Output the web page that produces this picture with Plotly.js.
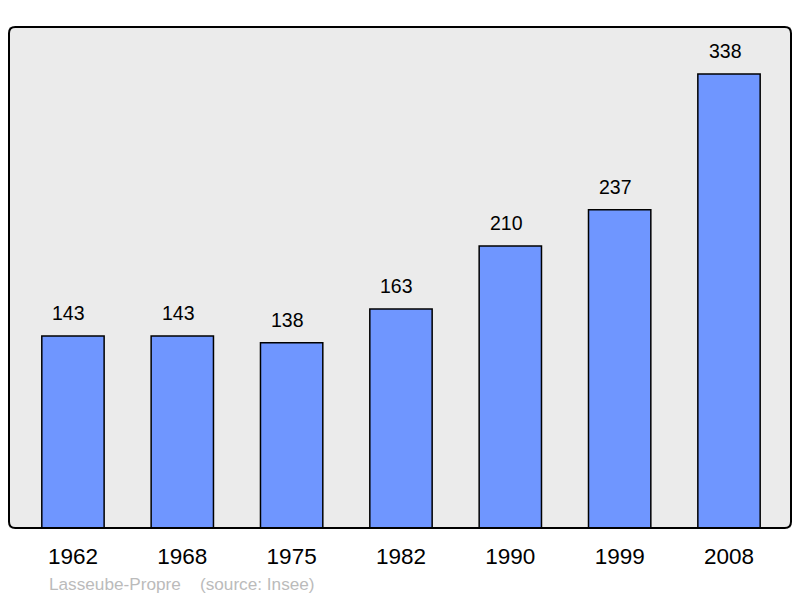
<!DOCTYPE html>
<html><head><meta charset="utf-8">
<script src="https://cdn.plot.ly/plotly-3.0.1.min.js"></script>
<style>html,body{margin:0;padding:0;background:#fff}#c{width:800px;height:598px}</style>
</head><body><div id="c"></div>
<script>
const years = ['1962','1968','1975','1982','1990','1999','2008'];
const population = [143,143,138,163,210,237,338];
const place = 'Lasseube-Propre';
const source = '(source: Insee)';

const r = 0.008, ry = r*782/501;
const border = `M ${r},0 L ${1-r},0 Q 1,0 1,${ry} L 1,${1-ry} Q 1,1 ${1-r},1 L ${r},1 Q 0,1 0,${1-ry} L 0,${ry} Q 0,0 ${r},0 Z`;

const trace = {
  type:'bar', x:years, y:population, width:0.57,
  marker:{color:'#6f96ff', line:{color:'#000', width:1.5}},
  hoverinfo:'none'
};
const anns = years.map((y,i)=>({xref:'x', yref:'y', x:i, y:population[i], text:String(population[i]), showarrow:false,
  yanchor:'bottom', yshift:10, xshift:-4, font:{family:'Liberation Sans, Arial, sans-serif', size:19.5, color:'#000'}}));
anns.push({xref:'paper', yref:'paper', x:(47-9)/782, y:-(584-528)/501, xanchor:'left', yanchor:'middle',
  text:place+'&nbsp;&nbsp;&nbsp;&nbsp;'+source, showarrow:false,
  font:{family:'Liberation Sans, Arial, sans-serif', size:17.2, color:'#bbbbbb'}});

const layout = {
  width:800, height:598, margin:{l:9,r:9,t:27,b:70},
  paper_bgcolor:'#fff', plot_bgcolor:'#ebebeb',
  showlegend:false,
  xaxis:{type:'category', range:[-0.585,6.567], showgrid:false, zeroline:false, showline:false,
    ticks:'', tickfont:{family:'Liberation Sans, Arial, sans-serif', size:22.5, color:'#000'}, ticklabelstandoff:12},
  yaxis:{range:[0,373], showgrid:false, zeroline:false, showticklabels:false, ticks:'', showline:false},
  shapes:[{type:'path', xref:'paper', yref:'paper', path:border, line:{color:'#000', width:2}, fillcolor:'rgba(0,0,0,0)', layer:'above'}],
  annotations:anns
};
Plotly.newPlot('c',[trace],layout,{staticPlot:true});
</script></body></html>
